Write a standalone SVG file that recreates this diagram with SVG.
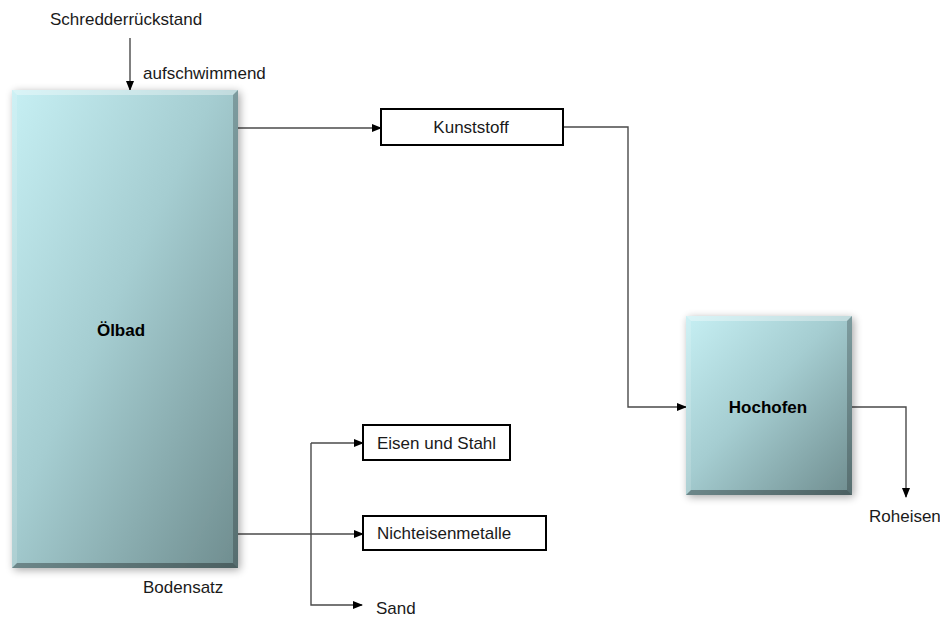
<svg xmlns="http://www.w3.org/2000/svg" width="940" height="620" viewBox="0 0 940 620">
<style>
.lbl{font-family:"Liberation Sans",Arial,sans-serif;font-size:17px;fill:#1a1a1a}
.bold{font-family:"Liberation Sans",Arial,sans-serif;font-size:17px;font-weight:bold;fill:#000}
.box{fill:#fff;stroke:#000;stroke-width:2}
.con{fill:none;stroke:#4a4a4a;stroke-width:1.4}
.hi{fill:#fff;opacity:0.35}
.hi2{fill:#fff;opacity:0.15}
.sh{fill:#000;opacity:0.22}
.sh2{fill:#000;opacity:0.32}
</style>
<defs>
<linearGradient id="g" x1="0" y1="0" x2="1" y2="1">
<stop offset="0" stop-color="#c6eff3"/>
<stop offset="0.45" stop-color="#a5cdd1"/>
<stop offset="1" stop-color="#6f8d8f"/>
</linearGradient>
<filter id="ds" x="-20%" y="-20%" width="140%" height="140%">
<feGaussianBlur in="SourceAlpha" stdDeviation="4"/>
<feOffset dx="2" dy="2"/>
<feComponentTransfer><feFuncA type="linear" slope="0.35"/></feComponentTransfer>
<feMerge><feMergeNode/><feMergeNode in="SourceGraphic"/></feMerge>
</filter>
<marker id="ar" markerWidth="10" markerHeight="8" refX="9" refY="4" orient="auto" markerUnits="userSpaceOnUse">
<path d="M0,0 L10,4 L0,8 Z" fill="#000"/>
</marker>
</defs>
<rect width="940" height="620" fill="#fff"/>

<g id="connectors">
<path class="con" d="M130,38 V90" marker-end="url(#ar)"/>
<path class="con" d="M238,128 H381" marker-end="url(#ar)"/>
<path class="con" d="M563,127 H628 V407 H686" marker-end="url(#ar)"/>
<path class="con" d="M852,407 H906 V497" marker-end="url(#ar)"/>
<path class="con" d="M238,534 H363" marker-end="url(#ar)"/>
<path class="con" d="M311,443 H363" marker-end="url(#ar)"/>
<path class="con" d="M311,443 V605 H362" marker-end="url(#ar)"/>
</g>

<g id="oelbad">
<g filter="url(#ds)">
<rect x="12" y="90" width="226" height="478" fill="url(#g)"/>
</g>
<polygon class="hi" points="12,90 238,90 233,95 17,95"/>
<polygon class="hi2" points="12,90 17,95 17,563 12,568"/>
<polygon class="sh" points="238,90 238,568 233,563 233,95"/>
<polygon class="sh2" points="12,568 238,568 233,563 17,563"/>
<text class="bold" x="121" y="336" text-anchor="middle">Ölbad</text>
</g>

<g id="hochofen">
<g filter="url(#ds)">
<rect x="686" y="316" width="166" height="179" fill="url(#g)"/>
</g>
<polygon class="hi" points="686,316 852,316 847,321 691,321"/>
<polygon class="hi2" points="686,316 691,321 691,490 686,495"/>
<polygon class="sh" points="852,316 852,495 847,490 847,321"/>
<polygon class="sh2" points="686,495 852,495 847,490 691,490"/>
<text class="bold" x="768" y="413" text-anchor="middle">Hochofen</text>
</g>

<g id="kunststoff">
<rect class="box" x="381" y="109" width="182" height="36"/>
<text class="lbl" x="471" y="133" text-anchor="middle">Kunststoff</text>
</g>

<g id="eisen">
<rect class="box" x="363" y="425" width="147" height="35"/>
<text class="lbl" x="377" y="449">Eisen und Stahl</text>
</g>

<g id="nichteisen">
<rect class="box" x="363" y="516" width="183" height="34"/>
<text class="lbl" x="377" y="539">Nichteisenmetalle</text>
</g>

<g id="labels">
<text class="lbl" x="50" y="25">Schredderrückstand</text>
<text class="lbl" x="143" y="79">aufschwimmend</text>
<text class="lbl" x="143" y="593">Bodensatz</text>
<text class="lbl" x="376" y="614">Sand</text>
<text class="lbl" x="869" y="522">Roheisen</text>
</g>
</svg>
